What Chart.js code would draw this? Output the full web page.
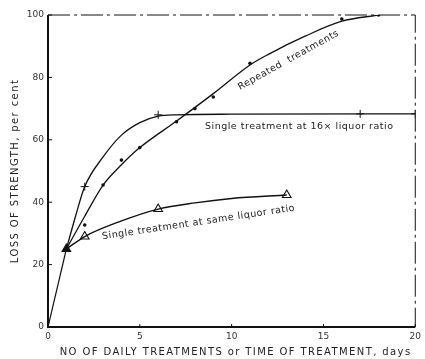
<!DOCTYPE html>
<html>
<head>
<meta charset="utf-8">
<script src="https://cdn.jsdelivr.net/npm/chart.js@4.4.0/dist/chart.umd.min.js"></script>
<style>
  html, body { margin: 0; padding: 0; background: #fff; }
  #wrap { width: 425px; height: 359px; }
</style>
</head>
<body>
<div id="wrap"><canvas id="chart"></canvas></div>
<script>
// Repeated treatments - measured points and the drawn curve
const repeatedX = [1, 2, 3, 4, 5, 7, 8, 9, 11, 16, 18];
const repeatedY = [25, 32.7, 45.5, 53.5, 57.5, 65.8, 70, 73.7, 84.5, 98.7, 100];
const repeatedCurveX = [1, 2, 3, 4, 5, 7, 9, 11, 12, 14, 16, 18];
const repeatedCurveY = [25, 35.5, 45.5, 52, 57.5, 66, 74.8, 84, 87.4, 93.2, 98, 100];

// Single treatment at 16x liquor ratio
const single16X = [2, 6, 17, 20];
const single16Y = [45, 68, 68.3, 68.3];
const single16CurveX = [1, 1.5, 2, 3, 4, 5, 6, 7, 10, 20];
const single16CurveY = [25, 35.5, 45, 54.5, 61.5, 65.5, 67.6, 68, 68.2, 68.3];

// Single treatment at same liquor ratio
const sameX = [1, 2, 6, 13];
const sameY = [25, 29, 37.8, 42.3];
const sameCurveX = [1, 2, 4, 6, 8, 10, 13];
const sameCurveY = [25, 29, 34, 37.8, 39.8, 41.2, 42.3];

// common start from the origin
const originX = [0, 1];
const originY = [0, 25];

const xTicks = [0, 5, 10, 15, 20];
const yTicks = [0, 20, 40, 60, 80, 100];

const pts = (xs, ys) => xs.map((x, i) => ({ x: x, y: ys[i] }));
const ink = '#111';
const textInk = '#222';

// text written on the plot
const notes = [
  { text: 'Repeated  treatments', x: 13.1, y: 85.5, angle: -29, align: 'center' },
  { text: 'Single treatment at 16\u00d7 liquor ratio', x: 8.55, y: 64.1, angle: 0, align: 'left' },
  { text: 'Single treatment at same liquor ratio', x: 8.2, y: 33.5, angle: -8.5, align: 'center' }
];

const frame = {
  id: 'frame',
  afterDatasetsDraw(chart) {
    const ctx = chart.ctx;
    const a = chart.chartArea;
    const xs = chart.scales.x, ys = chart.scales.y;
    ctx.save();
    ctx.strokeStyle = ink;
    // left + bottom axes
    ctx.lineWidth = 2;
    ctx.beginPath();
    ctx.moveTo(a.left, a.top);
    ctx.lineTo(a.left, a.bottom);
    ctx.lineTo(a.right, a.bottom);
    ctx.stroke();
    // top + right, broken like the scan
    ctx.lineWidth = 1;
    ctx.setLineDash([22, 4, 3, 4]);
    ctx.beginPath();
    ctx.moveTo(a.left, a.top);
    ctx.lineTo(a.right, a.top);
    ctx.lineTo(a.right, a.bottom);
    ctx.stroke();
    ctx.setLineDash([]);
    // small inward ticks
    ctx.beginPath();
    yTicks.forEach(v => {
      const py = ys.getPixelForValue(v);
      ctx.moveTo(a.left, py); ctx.lineTo(a.left + 4, py);
    });
    xTicks.forEach(v => {
      const px = xs.getPixelForValue(v);
      ctx.moveTo(px, a.bottom); ctx.lineTo(px, a.bottom - 3);
    });
    ctx.stroke();

    // notes on the curves
    ctx.fillStyle = textInk;
    ctx.font = '9.5px "DejaVu Sans"';
    ctx.textBaseline = 'middle';
    notes.forEach(n => {
      ctx.save();
      ctx.translate(xs.getPixelForValue(n.x), ys.getPixelForValue(n.y));
      ctx.rotate(n.angle * Math.PI / 180);
      ctx.textAlign = n.align;
      ctx.letterSpacing = '0.5px';
      ctx.fillText(n.text, 0, 0);
      ctx.restore();
    });

    // axis titles
    ctx.font = '10px "DejaVu Sans"';
    ctx.letterSpacing = '1.4px';
    ctx.textAlign = 'center';
    ctx.fillText('NO OF DAILY TREATMENTS or TIME OF TREATMENT, days', (a.left + a.right) / 2 + 4, 352);
    ctx.save();
    ctx.translate(15, (a.top + a.bottom) / 2);
    ctx.rotate(-Math.PI / 2);
    ctx.fillText('LOSS OF STRENGTH, per cent', 0, 0);
    ctx.restore();
    ctx.restore();
  }
};

new Chart(document.getElementById('chart'), {
  type: 'scatter',
  data: {
    datasets: [
      {
        data: pts(originX, originY), showLine: true, borderColor: ink, borderWidth: 1.2,
        pointRadius: 0
      },
      {
        data: pts(repeatedCurveX, repeatedCurveY), showLine: true, borderColor: ink, borderWidth: 1.3,
        pointRadius: 0, cubicInterpolationMode: 'monotone'
      },
      {
        data: pts(single16CurveX, single16CurveY), showLine: true, borderColor: ink, borderWidth: 1.3,
        pointRadius: 0, cubicInterpolationMode: 'monotone'
      },
      {
        data: pts(sameCurveX, sameCurveY), showLine: true, borderColor: ink, borderWidth: 1.4,
        pointRadius: 0, cubicInterpolationMode: 'monotone'
      },
      {
        data: pts(repeatedX, repeatedY), pointStyle: 'circle', pointRadius: 1.8,
        backgroundColor: ink, borderColor: ink, borderWidth: 0
      },
      {
        data: pts(single16X, single16Y), pointStyle: 'cross', pointRadius: 4,
        borderColor: ink, borderWidth: 1
      },
      {
        data: pts(sameX, sameY), pointStyle: 'triangle', pointRadius: 5,
        backgroundColor: sameX.map((x, i) => i === 0 ? ink : '#fff'),
        borderColor: ink, borderWidth: 1.1
      }
    ]
  },
  options: {
    responsive: true,
    maintainAspectRatio: false,
    animation: false,
    layout: { padding: { top: 15, right: 7, left: 0, bottom: 0 } },
    plugins: { legend: { display: false }, tooltip: { enabled: false } },
    scales: {
      x: {
        type: 'linear', min: 0, max: 20,
        grid: { display: false, drawTicks: false },
        border: { display: false },
        afterBuildTicks: s => { s.ticks = xTicks.map(v => ({ value: v })); },
        afterFit: s => { s.height = 32; },
        ticks: { padding: 4, color: '#333', font: { family: 'DejaVu Sans', size: 9 } }
      },
      y: {
        type: 'linear', min: 0, max: 100,
        grid: { display: false, drawTicks: false },
        border: { display: false },
        afterBuildTicks: s => { s.ticks = yTicks.map(v => ({ value: v })); },
        afterFit: s => { s.width = 48; },
        ticks: { padding: 4, color: '#333', font: { family: 'DejaVu Sans', size: 9 } }
      }
    }
  },
  plugins: [frame]
});
</script>
</body>
</html>
